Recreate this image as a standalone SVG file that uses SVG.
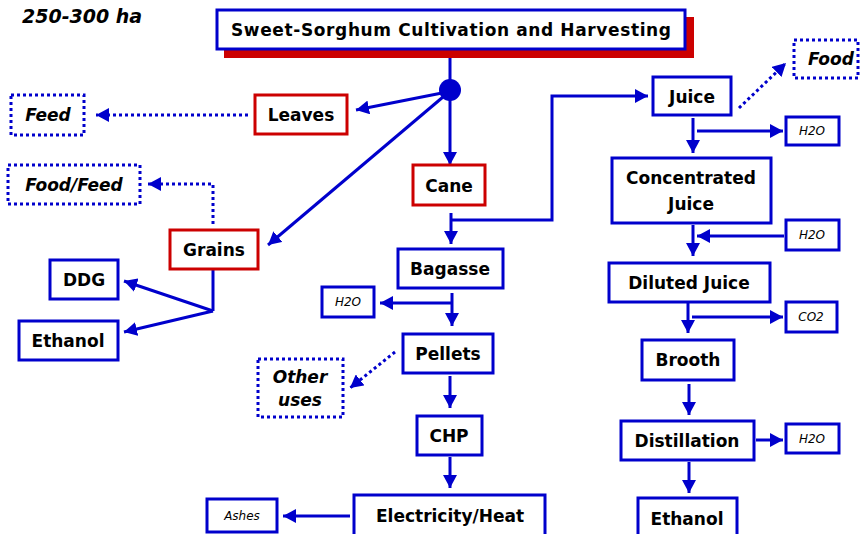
<svg xmlns="http://www.w3.org/2000/svg" width="861" height="534" viewBox="0 0 861 534">
<style>
.bx{fill:#fff;stroke:#0000CC;stroke-width:3}
.rd{fill:#fff;stroke:#CC0000;stroke-width:3}
.dt{fill:#fff;stroke:#0000CC;stroke-width:3;stroke-dasharray:3 3}
.t{font-family:"DejaVu Sans",sans-serif;font-weight:bold;font-size:17px;fill:#000;text-anchor:middle;dominant-baseline:central}
.it{font-family:"DejaVu Sans",sans-serif;font-weight:bold;font-style:italic;font-size:17px;fill:#000;text-anchor:middle;dominant-baseline:central}
.sm{font-family:"DejaVu Sans",sans-serif;font-style:italic;font-size:12px;fill:#000;text-anchor:middle;dominant-baseline:central}
.ln{fill:none;stroke:#0000CC;stroke-width:3}
.ar{fill:none;stroke:#0000CC;stroke-width:3;marker-end:url(#ah)}
.da{fill:none;stroke:#0000CC;stroke-width:3;stroke-dasharray:3 3;marker-end:url(#ah)}
</style>
<defs>
<marker id="ah" markerUnits="userSpaceOnUse" markerWidth="14" markerHeight="14" refX="13" refY="7" orient="auto">
<path d="M0,0 L13,7 L0,14 Z" fill="#0000CC"/>
</marker>
</defs>
<rect width="861" height="534" fill="#fff"/>
<text x="22" y="16" font-family="DejaVu Sans,sans-serif" font-weight="bold" font-style="italic" font-size="19" dominant-baseline="central">250-300 ha</text>

<g id="connectors">
<line class="ln" x1="450" y1="58" x2="450" y2="92"/>
<line class="ar" x1="442" y1="93" x2="356" y2="110"/>
<line class="ar" x1="450" y1="95" x2="450" y2="165"/>
<line class="ar" x1="443" y1="97" x2="268" y2="245"/>
<line class="da" x1="248" y1="115" x2="96" y2="115"/>
<polyline class="da" points="213,224 213,184 148,184"/>
<polyline class="ln" points="213,269 213,311"/>
<line class="ar" x1="213" y1="311" x2="124" y2="281"/>
<line class="ar" x1="213" y1="311" x2="124" y2="332"/>
<line class="ar" x1="451" y1="213" x2="451" y2="244"/>
<polyline class="ar" points="451,220 552,220 552,96 648,96"/>
<line class="da" x1="739" y1="108" x2="786" y2="63"/>
<line class="ar" x1="693" y1="118" x2="693" y2="153"/>
<line class="ar" x1="697" y1="131" x2="783" y2="131"/>
<line class="ar" x1="693" y1="225" x2="693" y2="256"/>
<line class="ar" x1="784" y1="236" x2="697" y2="236"/>
<line class="ar" x1="688" y1="303" x2="688" y2="333"/>
<line class="ar" x1="692" y1="317" x2="783" y2="317"/>
<line class="ar" x1="689" y1="384" x2="689" y2="415"/>
<line class="ar" x1="756" y1="440" x2="783" y2="440"/>
<line class="ar" x1="689" y1="462" x2="689" y2="493"/>
<line class="ar" x1="452" y1="293" x2="452" y2="326"/>
<polyline class="ar" points="452,303 380,303"/>
<line class="da" x1="395" y1="352" x2="350" y2="388"/>
<line class="ar" x1="450" y1="376" x2="450" y2="408"/>
<line class="ar" x1="450" y1="457" x2="450" y2="488"/>
<line class="ar" x1="350" y1="516" x2="283" y2="516"/>
</g>

<g id="title">
<rect x="224" y="17" width="470" height="41" fill="#CC0000"/>
<rect class="bx" x="217" y="10" width="468" height="39"/>
<text class="t" x="451" y="30" textLength="440" lengthAdjust="spacing">Sweet-Sorghum Cultivation and Harvesting</text>
</g>
<g id="junction"><circle cx="450" cy="90" r="11" fill="#0000CC"/></g>
<g id="leaves"><rect class="rd" x="255" y="95" width="92" height="39"/><text class="t" x="301" y="115">Leaves</text></g>
<g id="feed"><rect class="dt" x="11" y="95" width="73" height="40"/><text class="it" x="48" y="115">Feed</text></g>
<g id="cane"><rect class="rd" x="413" y="165" width="72" height="40"/><text class="t" x="449" y="186">Cane</text></g>
<g id="grains"><rect class="rd" x="170" y="230" width="88" height="39"/><text class="t" x="214" y="250">Grains</text></g>
<g id="foodfeed"><rect class="dt" x="8" y="165" width="132" height="39"/><text class="it" x="74" y="185">Food/Feed</text></g>
<g id="ddg"><rect class="bx" x="50" y="260" width="68" height="39"/><text class="t" x="84" y="280">DDG</text></g>
<g id="ethanol1"><rect class="bx" x="19" y="321" width="99" height="39"/><text class="t" x="68" y="341">Ethanol</text></g>
<g id="bagasse"><rect class="bx" x="398" y="249" width="105" height="39"/><text class="t" x="450" y="269">Bagasse</text></g>
<g id="h2o1"><rect class="bx" x="322" y="287" width="52" height="30"/><text class="sm" x="348" y="302">H2O</text></g>
<g id="pellets"><rect class="bx" x="403" y="334" width="90" height="39"/><text class="t" x="448" y="354">Pellets</text></g>
<g id="otheruses"><rect class="dt" x="258" y="359" width="85" height="58"/><text class="it" x="300" y="377">Other</text><text class="it" x="300" y="400">uses</text></g>
<g id="chp"><rect class="bx" x="417" y="416" width="65" height="39"/><text class="t" x="449" y="436">CHP</text></g>
<g id="elec"><rect class="bx" x="354" y="495" width="191" height="45"/><text class="t" x="450" y="516">Electricity/Heat</text></g>
<g id="ashes"><rect class="bx" x="207" y="499" width="70" height="33"/><text class="sm" x="242" y="516" font-size="13">Ashes</text></g>
<g id="juice"><rect class="bx" x="653" y="77" width="78" height="38"/><text class="t" x="692" y="97">Juice</text></g>
<g id="food"><rect class="dt" x="794" y="40" width="64" height="38"/><text class="it" x="831" y="59">Food</text></g>
<g id="h2o2"><rect class="bx" x="786" y="117" width="53" height="28"/><text class="sm" x="812" y="131">H2O</text></g>
<g id="conc"><rect class="bx" x="612" y="158" width="159" height="65"/><text class="t" x="691" y="178">Concentrated</text><text class="t" x="691" y="204">Juice</text></g>
<g id="h2o3"><rect class="bx" x="786" y="220" width="53" height="30"/><text class="sm" x="812" y="235">H2O</text></g>
<g id="diluted"><rect class="bx" x="609" y="263" width="161" height="39"/><text class="t" x="689" y="283">Diluted Juice</text></g>
<g id="co2"><rect class="bx" x="786" y="302" width="51" height="30"/><text class="sm" x="811" y="317">CO2</text></g>
<g id="brooth"><rect class="bx" x="642" y="340" width="92" height="40"/><text class="t" x="688" y="360">Brooth</text></g>
<g id="distillation"><rect class="bx" x="621" y="421" width="133" height="39"/><text class="t" x="687" y="441">Distillation</text></g>
<g id="h2o4"><rect class="bx" x="786" y="424" width="53" height="29"/><text class="sm" x="812" y="439">H2O</text></g>
<g id="ethanol2"><rect class="bx" x="638" y="498" width="99" height="45"/><text class="t" x="687" y="519">Ethanol</text></g>
</svg>
